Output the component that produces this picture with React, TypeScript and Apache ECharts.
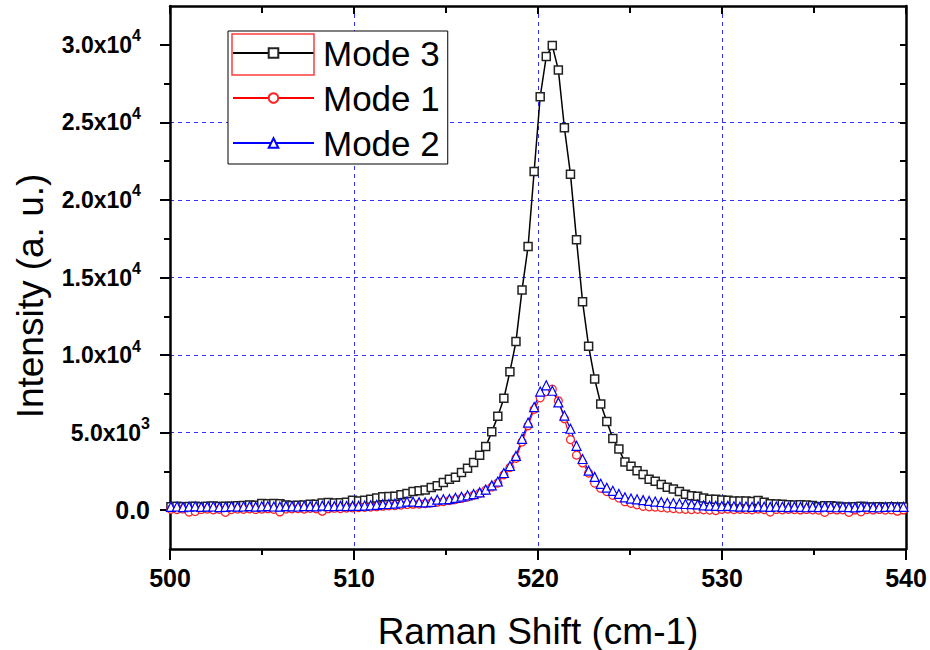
import React, { useEffect, useRef } from "react";
import * as echarts from "echarts";

// Raman shift sampling grid (cm-1): first sample and spacing
const xStart = 500.05;
const xStep = 0.329;

// Intensity (a. u.) per sample
const mode3: number[] = [
  230, 250, 220, 240, 260, 230, 250, 270, 240, 260,
  250, 280, 300, 330, 320, 430, 420, 440, 410, 330,
  300, 320, 340, 380, 390, 470, 490, 460, 480, 510,
  650, 600, 650, 710, 780, 860, 880, 900, 990, 1070,
  1200, 1250, 1300, 1460, 1570, 1780, 2000, 2120, 2430, 2700,
  3075, 3550, 4100, 5050, 6050, 7210, 8930, 10870, 14200, 17000,
  21830, 26650, 29240, 29950, 28380, 24650, 21660, 17440, 13440, 10570,
  8460, 6850, 5720, 4620, 3940, 3100, 2840, 2540, 2300, 2000,
  1870, 1650, 1480, 1360, 1200, 1030, 930, 900, 780, 710,
  700, 660, 640, 600, 590, 600, 560, 630, 520, 420,
  400, 390, 360, 340, 350, 330, 300, 220, 280, 290,
  250, 210, 200, 220, 260, 210, 200, 220, 190, 230,
  210, 200,
];

const mode1: number[] = [
  60, 40, 80, -120, -80, 50, 70, 30, 60, -130,
  40, 80, 60, 90, 50, 70, 100, 60, -110, 80,
  90, 110, 70, 120, 90, -60, 100, 130, 110, 140,
  150, 170, 190, 200, 230, 260, 280, 300, 330, 370,
  390, 400, 430, 470, 520, 560, 620, 690, 760, 850,
  960, 1100, 1290, 1500, 1750, 2280, 2750, 3350, 4400, 5450,
  6500, 7250, 7650, 7800, 7050, 5900, 4550, 3550, 3050, 2400,
  1750, 1420, 1200, 960, 790, 550, 450, 350, 250, 220,
  200, 170, 140, 110, 80, 60, 40, 60, 30, 10,
  -20, 60, 70, 40, 60, 50, 30, 70, 40, -120,
  50, 30, 60, 40, 20, 50, 30, 10, -140, 40,
  20, 30, -130, 20, -100, 40, 20, 50, 10, 30,
  -60, 20,
];

const mode2: number[] = [
  220, 240, 200, 230, 250, 210, 230, 240, 200, 220,
  250, 230, 240, 260, 230, 250, 270, 240, 230, 260,
  250, 240, 270, 260, 250, 290, 270, 260, 280, 270,
  280, 280, 300, 320, 350, 390, 400, 420, 480, 560,
  550, 520, 500, 540, 680, 700, 720, 800, 870, 960,
  1040, 1150, 1330, 1600, 1850, 2400, 2850, 3500, 4600, 5650,
  6650, 7650, 8050, 7700, 6950, 6100, 5250, 4150, 3300, 2550,
  2150, 1700, 1450, 1250, 1050, 830, 750, 700, 650, 600,
  560, 530, 480, 460, 430, 400, 390, 370, 310, 290,
  280, 270, 280, 250, 230, 240, 220, 250, 230, 210,
  240, 220, 200, 230, 210, 190, 220, 200, 230, 210,
  190, 220, 200, 180, 210, 230, 200, 190, 220, 240,
  210, 220,
];

const seriesNames = ["Mode 3", "Mode 1", "Mode 2"];
const yMajorTicks = [0, 5000, 10000, 15000, 20000, 25000, 30000];
const yMinorTicks = [2500, 7500, 12500, 17500, 22500, 27500];
const yRightTicks = [0, 2500, 5000, 7500, 10000, 12500, 15000, 17500, 20000, 22500, 25000, 27500, 30000];

const FONT = "Liberation Sans";
const GRID_BLUE = "#3030ff";

const xValues = mode3.map((_, i) => +(xStart + i * xStep).toFixed(3));

function yFmt(v: number): string {
  if (v === 0) return "0.0";
  const e = Math.floor(Math.log10(Math.abs(v)) + 1e-9);
  const m = (v / Math.pow(10, e)).toFixed(1);
  return `{base|${m}x10}{${e >= 4 ? "supw" : "sup"}|${e}}`;
}

export default function App() {
  const ref = useRef<HTMLDivElement>(null);

  useEffect(() => {
    if (!ref.current) return;
    const chart = echarts.init(ref.current, undefined, { renderer: "svg" });

    const gridLine = { color: GRID_BLUE, width: 1, type: [4, 4] as any };
    const blackLine = { color: "#000", width: 2.5 };
    const tickStyle = { color: "#000", width: 2 };

    const option: any = {
      animation: false,
      backgroundColor: "#fff",
      grid: { left: 170, top: 6, right: 24, bottom: 101, containLabel: false },
      legend: {
        orient: "vertical",
        left: 228,
        top: 31,
        padding: [2, 8, 1, 4],
        backgroundColor: "#fff",
        borderColor: "#000",
        borderWidth: 1,
        itemWidth: 81,
        itemHeight: 12,
        itemGap: 5,
        data: seriesNames,
        textStyle: {
          fontFamily: FONT,
          fontSize: 35,
          color: "#000",
          lineHeight: 40,
          padding: [0, 0, 0, 4],
        },
      },
      xAxis: [
        {
          type: "value",
          position: "bottom",
          min: 500,
          max: 540,
          interval: 10,
          axisLine: { show: true, onZero: false, lineStyle: blackLine },
          axisTick: { show: true, length: 11, lineStyle: tickStyle },
          minorTick: { show: true, splitNumber: 2, length: 6, lineStyle: tickStyle },
          axisLabel: { margin: 16, fontFamily: FONT, fontSize: 25, fontWeight: "bold", color: "#000" },
          splitLine: { show: true, showMinLine: false, showMaxLine: false, lineStyle: gridLine },
        },
        {
          type: "value",
          position: "top",
          min: 500,
          max: 540,
          interval: 10,
          axisLine: { show: true, onZero: false, lineStyle: blackLine },
          axisTick: { show: true, inside: true, length: 8, lineStyle: tickStyle },
          minorTick: { show: true, splitNumber: 2, length: 7, lineStyle: tickStyle },
          axisLabel: { show: false },
          splitLine: { show: false },
        },
      ],
      yAxis: [
        {
          type: "value",
          position: "left",
          min: -2500,
          max: 32500,
          splitNumber: 7,
          axisLine: { show: true, onZero: false, lineStyle: blackLine },
          axisTick: { show: true, length: 10, customValues: yMajorTicks, lineStyle: tickStyle },
          axisLabel: {
            margin: 20,
            customValues: yMajorTicks,
            formatter: yFmt,
            fontFamily: FONT,
            fontSize: 25,
            fontWeight: "bold",
            color: "#000",
            overflow: "none",
            rich: {
              base: { fontSize: 23, lineHeight: 34 },
              sup: { fontSize: 16, lineHeight: 16, verticalAlign: "top" },
              supw: { fontSize: 16, lineHeight: 16, verticalAlign: "top", padding: [0, 9, 0, 0] },
            },
          },
          splitLine: { show: true, showMinLine: false, showMaxLine: false, lineStyle: gridLine },
        },
        {
          type: "value",
          position: "left",
          min: -2500,
          max: 32500,
          splitNumber: 7,
          axisLine: { show: false, onZero: false },
          axisTick: { show: true, length: 6, customValues: yMinorTicks, lineStyle: tickStyle },
          axisLabel: { show: false },
          splitLine: { show: false },
        },
        {
          type: "value",
          position: "right",
          min: -2500,
          max: 32500,
          splitNumber: 7,
          axisLine: { show: true, onZero: false, lineStyle: blackLine },
          axisTick: { show: true, inside: true, length: 6, customValues: yRightTicks, lineStyle: tickStyle },
          axisLabel: { show: false },
          splitLine: { show: false },
        },
      ],
      series: [
        {
          name: "Mode 3",
          type: "line",
          data: xValues.map((x, i) => [x, mode3[i]]),
          symbol: "rect",
          symbolSize: 8,
          showAllSymbol: true,
          lineStyle: { color: "#000", width: 1.5 },
          itemStyle: { color: "#fff", borderColor: "#222", borderWidth: 1.5 },
          emphasis: { disabled: true },
        },
        {
          name: "Mode 1",
          type: "line",
          data: xValues.map((x, i) => [x, mode1[i]]),
          symbol: "circle",
          symbolSize: 8,
          showAllSymbol: true,
          lineStyle: { color: "#ff0000", width: 1.2 },
          itemStyle: { color: "#fff", borderColor: "#ff2020", borderWidth: 1.2 },
          emphasis: { disabled: true },
        },
        {
          name: "Mode 2",
          type: "line",
          data: xValues.map((x, i) => [x, mode2[i]]),
          symbol: "triangle",
          symbolSize: 9,
          showAllSymbol: true,
          lineStyle: { color: "#0000ff", width: 1.2 },
          itemStyle: { color: "#fff", borderColor: "#0000ff", borderWidth: 1.2 },
          emphasis: { disabled: true },
        },
      ],
      graphic: [
        {
          type: "text",
          x: 30,
          y: 296,
          rotation: Math.PI / 2,
          z: 100,
          style: {
            text: "Intensity (a. u.)",
            fontFamily: FONT,
            fontSize: 37,
            fill: "#000",
            align: "center",
            verticalAlign: "middle",
          },
        },
        {
          type: "text",
          x: 538,
          y: 631,
          z: 100,
          style: {
            text: "Raman Shift (cm-1)",
            fontFamily: FONT,
            fontSize: 37,
            fill: "#000",
            align: "center",
            verticalAlign: "middle",
          },
        },
        {
          type: "rect",
          z: 100,
          shape: { x: 232, y: 34, width: 82, height: 41 },
          style: { fill: "none", stroke: "#ff3c3c", lineWidth: 1.5 },
        },
      ],
    };

    chart.setOption(option);
    return () => chart.dispose();
  }, []);

  return (
    <div
      ref={ref}
      style={{ position: "fixed", left: 0, top: 0, width: 930, height: 650, background: "#fff" }}
    />
  );
}
